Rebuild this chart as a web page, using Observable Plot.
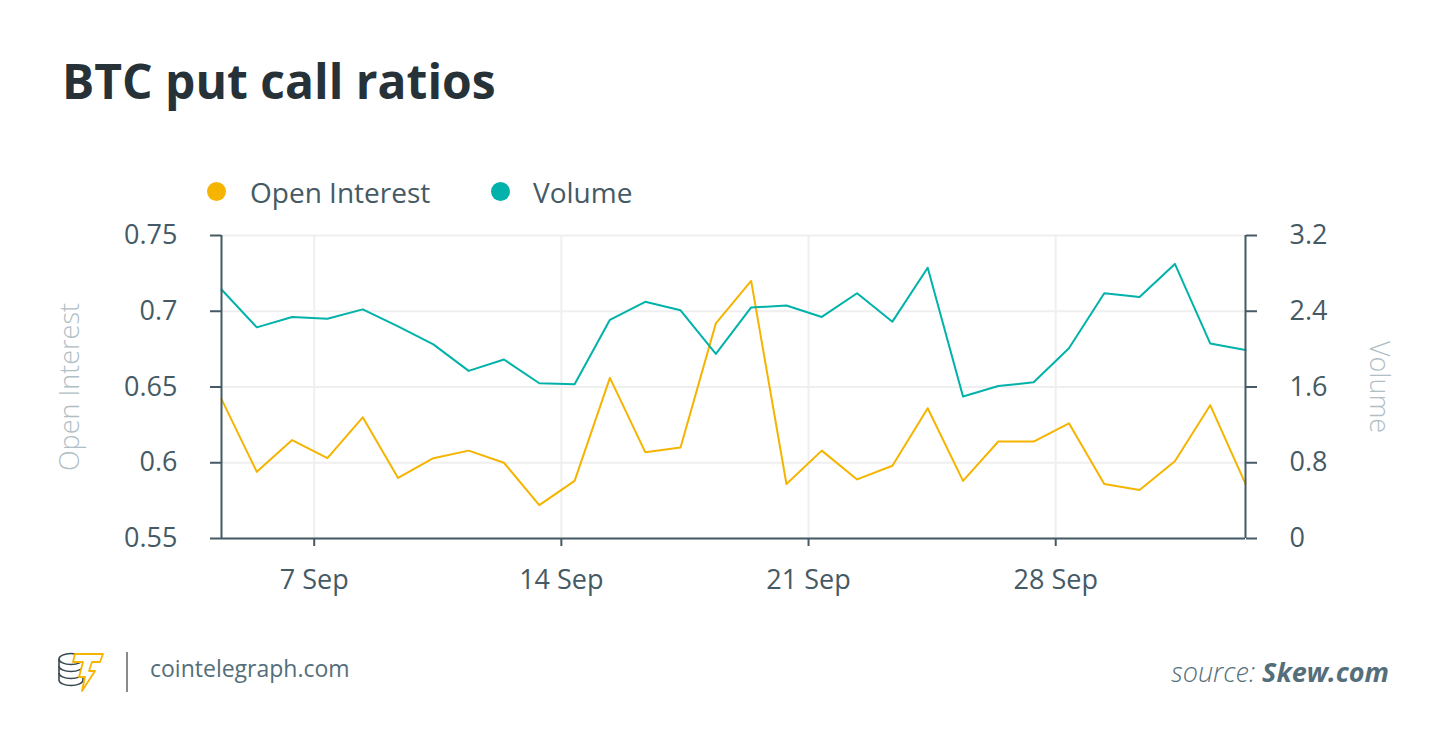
<!DOCTYPE html>
<html>
<head>
<meta charset="utf-8">
<script src="https://cdn.jsdelivr.net/npm/d3@7"></script>
<script src="https://cdn.jsdelivr.net/npm/@observablehq/plot@0.6"></script>
<style>
  html, body { margin: 0; padding: 0; background: #fff; }
  body { width: 1450px; height: 752px; position: relative; overflow: hidden; font-family: "Open Sans", sans-serif; }
  #title { position: absolute; left: 62px; top: 57px; font-size: 48px; line-height: 1; font-weight: 700; color: #263238; white-space: nowrap; }
  .leg-dot { position: absolute; width: 19px; height: 19px; border-radius: 50%; top: 182px; }
  .leg-txt { position: absolute; top: 178px; font-size: 28px; line-height: 1; color: #455a64; white-space: nowrap; }
  #chart { position: absolute; left: 0; top: 200px; }
  #logo { position: absolute; left: 56px; top: 648px; }
  #divider { position: absolute; left: 126px; top: 652px; width: 2px; height: 40px; background: #8a8a8a; }
  #site { position: absolute; left: 150px; top: 657px; font-size: 23px; line-height: 1; color: #546e7a; white-space: nowrap; }
  #source { position: absolute; right: 61px; top: 658px; font-size: 27px; line-height: 1; color: #546e7a; font-style: italic; white-space: nowrap; }
  #source .l { font-weight: 300; }
  #source .b { font-weight: 700; }
</style>
</head>
<body>
<div id="title">BTC put call ratios</div>

<div class="leg-dot" style="left:207px;background:#f5b400"></div>
<div class="leg-txt" style="left:250px">Open Interest</div>
<div class="leg-dot" style="left:491px;background:#00b2a9"></div>
<div class="leg-txt" style="left:533px">Volume</div>

<div id="chart"></div>

<svg id="logo" width="52" height="46" viewBox="0 0 52 46">
  <g fill="none" stroke="#37474f" stroke-width="1.6">
    <ellipse cx="15" cy="11" rx="12" ry="5.5"/>
    <path d="M3,11 V32 M27,11 V32"/>
    <path d="M3,18 A12,5.5 0 0 0 27,18"/>
    <path d="M3,25 A12,5.5 0 0 0 27,25"/>
    <path d="M3,32 A12,5.5 0 0 0 27,32"/>
  </g>
  <polygon points="19,6 47,6 44,14 36,14 33,23 39,23 26,43 29,29 23,29 27,14 17,14"
           fill="#fff" stroke="#f5b400" stroke-width="1.8" stroke-linejoin="round"/>
</svg>
<div id="divider"></div>
<div id="site">cointelegraph.com</div>
<div id="source"><span class="l">source: </span><span class="b">Skew.com</span></div>

<script>
// ---- data ----
const dates = [
  "2020-09-04T09:00Z","2020-09-05T09:00Z","2020-09-06T09:00Z","2020-09-07T09:00Z","2020-09-08T09:00Z",
  "2020-09-09T09:00Z","2020-09-10T09:00Z","2020-09-11T09:00Z","2020-09-12T09:00Z","2020-09-13T09:00Z",
  "2020-09-14T09:00Z","2020-09-15T09:00Z","2020-09-16T09:00Z","2020-09-17T09:00Z","2020-09-18T09:00Z",
  "2020-09-19T09:00Z","2020-09-20T09:00Z","2020-09-21T09:00Z","2020-09-22T09:00Z","2020-09-23T09:00Z",
  "2020-09-24T09:00Z","2020-09-25T09:00Z","2020-09-26T09:00Z","2020-09-27T09:00Z","2020-09-28T09:00Z",
  "2020-09-29T09:00Z","2020-09-30T09:00Z","2020-10-01T09:00Z","2020-10-02T09:00Z","2020-10-03T09:00Z"
];
const openInterest = [
  0.642, 0.594, 0.615, 0.603, 0.630, 0.590, 0.603, 0.608, 0.600, 0.572,
  0.588, 0.656, 0.607, 0.610, 0.692, 0.720, 0.586, 0.608, 0.589, 0.598,
  0.636, 0.588, 0.614, 0.614, 0.626, 0.586, 0.582, 0.601, 0.638, 0.586
];
const volume = [
  2.63, 2.23, 2.34, 2.32, 2.42, 2.24, 2.05, 1.77, 1.89, 1.64,
  1.63, 2.31, 2.50, 2.41, 1.95, 2.44, 2.46, 2.34, 2.59, 2.29,
  2.86, 1.50, 1.61, 1.65, 2.01, 2.59, 2.55, 2.90, 2.06, 1.99
];
const oiTicks = [0.55, 0.6, 0.65, 0.7, 0.75];
const volTicks = [0, 0.8, 1.6, 2.4, 3.2];
const xTickDates = ["2020-09-07", "2020-09-14", "2020-09-21", "2020-09-28"];
const seriesNames = ["Open Interest", "Volume"];
const colors = ["#f5b400", "#00b2a9"];

// ---- build ----
const rows = dates.map((d, i) => ({ date: new Date(d), oi: openInterest[i], vol: volume[i] }));
const oiDomain = [oiTicks[0], oiTicks[oiTicks.length - 1]];
const volDomain = [volTicks[0], volTicks[volTicks.length - 1]];
const volToOi = d3.scaleLinear().domain(volDomain).range(oiDomain);
const xTicks = xTickDates.map(d => new Date(d + "T00:00Z"));
const xDomain = [rows[0].date, rows[rows.length - 1].date];
const axisColor = "#455a64";
const gridColor = "#efefef";

const chart = Plot.plot({
  width: 1450,
  height: 420,
  marginLeft: 221,
  marginRight: 205,
  marginTop: 35,
  marginBottom: 82,
  style: { fontFamily: "Open Sans, sans-serif", fontSize: "27px", color: axisColor, background: "transparent", overflow: "visible" },
  x: { type: "utc", domain: xDomain },
  y: { domain: oiDomain },
  marks: [
    Plot.gridY(oiTicks, { stroke: gridColor, strokeOpacity: 1, strokeWidth: 2 }),
    Plot.gridX(xTicks, { stroke: gridColor, strokeOpacity: 1, strokeWidth: 2 }),
    Plot.lineY(rows, { x: "date", y: "oi", stroke: colors[0], strokeWidth: 2 }),
    Plot.lineY(rows, { x: "date", y: d => volToOi(d.vol), stroke: colors[1], strokeWidth: 2 }),
    Plot.ruleY([oiDomain[0]], { stroke: axisColor, strokeWidth: 2 }),
    Plot.ruleX(xDomain, { y1: oiDomain[0], y2: oiDomain[1], stroke: axisColor, strokeWidth: 2 }),
    Plot.axisY(oiTicks, { anchor: "left", tickSize: 11, tickPadding: 33, strokeWidth: 2, fontSize: 27, label: null,
      tickFormat: d => String(d) }),
    Plot.axisY(volTicks.map(v => volToOi(v)), { anchor: "right", tickSize: 11, tickPadding: 33, strokeWidth: 2, fontSize: 27, label: null,
      tickFormat: (d, i) => String(volTicks[i]) }),
    Plot.axisX(xTicks, { anchor: "bottom", tickSize: 8, tickPadding: 23, strokeWidth: 2, fontSize: 27, label: null,
      tickFormat: d3.utcFormat("%-d %b") }),
    Plot.text([seriesNames[0]], { frameAnchor: "left", dx: -151, rotate: -90, textAnchor: "middle",
      fill: "#b0bec5", fontSize: 27, fontWeight: 300 }),
    Plot.text([seriesNames[1]], { frameAnchor: "right", dx: 133, rotate: 90, textAnchor: "middle",
      fill: "#b0bec5", fontSize: 27, fontWeight: 300 })
  ]
});
document.getElementById("chart").appendChild(chart);
</script>
</body>
</html>
